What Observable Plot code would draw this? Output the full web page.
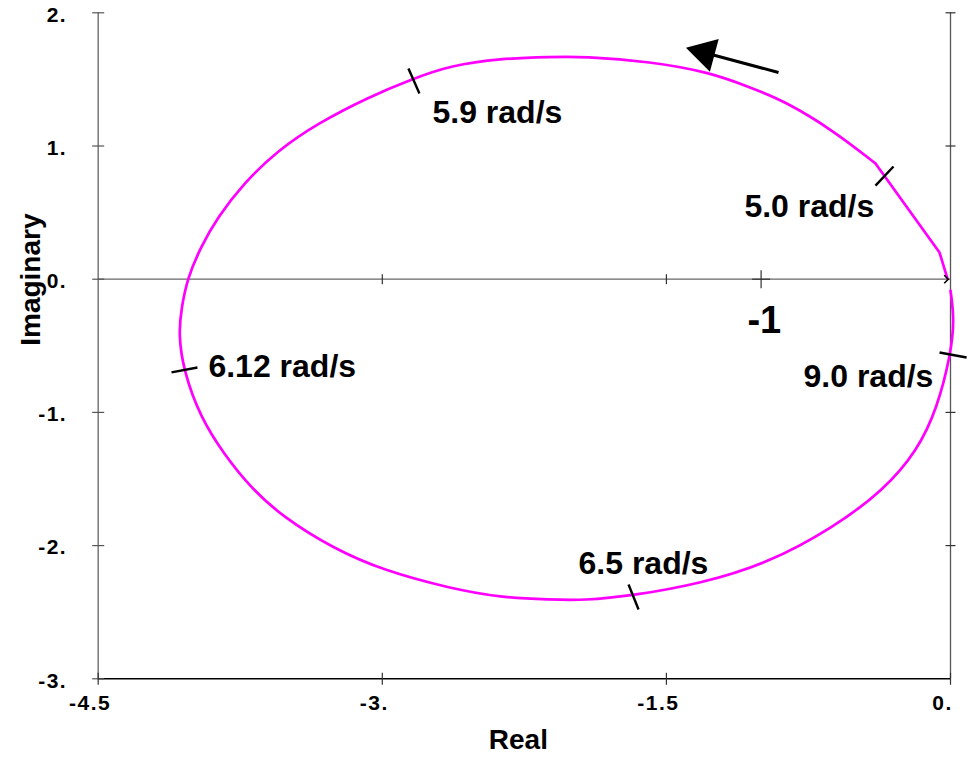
<!DOCTYPE html>
<html>
<head>
<meta charset="utf-8">
<script src="https://cdn.jsdelivr.net/npm/d3@7"></script>
<script src="https://cdn.jsdelivr.net/npm/@observablehq/plot@0.6"></script>
<style>
  body { margin: 0; background: #fff; }
  svg text { font-family: "Liberation Sans", Arial, sans-serif; }
  .ticklbl text { letter-spacing: 1.5px; }
</style>
</head>
<body>
<script>
// Nyquist curve (real, imaginary)
const curveRe = [-0.016, -0.058, -0.396, -0.618, -0.882, -1.056, -1.267, -1.584, -1.938, -2.112,
  -2.376, -2.640, -2.835, -3.078, -3.342, -3.553, -3.733, -3.870, -3.960, -4.029,
  -4.060, -4.076, -4.050, -3.960, -3.838, -3.696, -3.522, -3.258, -2.994, -2.640,
  -2.376, -2.112, -1.938, -1.674, -1.320, -0.966, -0.618, -0.354, -0.174, -0.069,
  0.000, 0.021, 0.000];
const curveIm = [0.005, 0.200, 0.869, 1.116, 1.342, 1.439, 1.552, 1.634, 1.672, 1.668,
  1.657, 1.604, 1.507, 1.364, 1.169, 0.966, 0.718, 0.463, 0.238, 0.005,
  -0.212, -0.408, -0.685, -1.038, -1.309, -1.564, -1.789, -2.022, -2.187, -2.322,
  -2.390, -2.405, -2.412, -2.375, -2.285, -2.134, -1.864, -1.586, -1.286, -0.963,
  -0.573, -0.310, -0.085];

// frequency marks on the curve
const markLabels = ["5.0 rad/s", "5.9 rad/s", "6.12 rad/s", "6.5 rad/s", "9.0 rad/s"];
const markX1 = [-0.396, -2.862, -4.113, -1.700, -0.058];
const markY1 = [0.703, 1.582, -0.700, -2.292, -0.550];
const markX2 = [-0.301, -2.804, -3.976, -1.647, 0.085];
const markY2 = [0.846, 1.394, -0.663, -2.480, -0.588];
const labelX = [-1.088, -2.735, -3.918, -1.964, -0.776];
const labelY = [0.547, 1.253, -0.654, -2.133, -0.736];

// "-1" critical point annotation
const critLabel = ["-1"];
const critX = [-1.072];
const critY = [-0.309];

// direction arrow
const arrowTail = [-0.908, 1.552];
const arrowHead = [-1.297, 1.700];

// axis ticks
const xTickValues = [-4.5, -3, -1.5, 0];
const xTickLabels = ["-4.5", "-3.", "-1.5", "0."];
const yTickValues = [2, 1, 0, -1, -2, -3];
const yTickLabels = ["2.", "1.", "0.", "-1.", "-2.", "-3."];
const zeroLineTicks = [-3, -1.5];
const critTick = [-1];
const rightTicks = [2, 1, -1, -2];

const curve = curveRe.map((x, i) => ({x, y: curveIm[i]}));
const curveStart = curve.slice(0, 3);   // straight segments near the origin
const curveRest = curve.slice(2);       // smooth arc
const marks = markLabels.map((t, i) => ({t, x1: markX1[i], y1: markY1[i], x2: markX2[i], y2: markY2[i], lx: labelX[i], ly: labelY[i]}));

const hTick = {draw(ctx, size) { const r = Math.sqrt(size / Math.PI); ctx.moveTo(-r, 0); ctx.lineTo(r, 0); }};
const vTick = {draw(ctx, size) { const r = Math.sqrt(size / Math.PI); ctx.moveTo(0, -r); ctx.lineTo(0, r); }};
const chevron = {draw(ctx, size) { const r = Math.sqrt(size / Math.PI); ctx.moveTo(-r, -r); ctx.lineTo(0, 0); ctx.lineTo(-r, r); }};

const chart = Plot.plot({
  width: 973,
  height: 762,
  marginLeft: 97.7,
  marginRight: 23,
  marginTop: 12.3,
  marginBottom: 83.7,
  x: {domain: [-4.5, 0], axis: null},
  y: {domain: [-3, 2], axis: null},
  style: {background: "#fff", fontFamily: "Liberation Sans, Arial, sans-serif"},
  marks: [
    // frame lines
    Plot.ruleX([-4.5], {stroke: "#808080", strokeWidth: 1.6}),
    Plot.ruleY([-3], {stroke: "#000", strokeWidth: 1.4}),
    Plot.ruleY([0], {stroke: "#666", strokeWidth: 1.3}),
    Plot.ruleX([0], {stroke: "#555", strokeWidth: 1.3}),
    // ticks
    Plot.dot(yTickValues, {y: d => d, frameAnchor: "left", symbol: hTick, r: 6, stroke: "#555", fill: "none", strokeWidth: 1.2}),
    Plot.dot(xTickValues, {x: d => d, frameAnchor: "bottom", symbol: vTick, r: 6, stroke: "#333", fill: "none", strokeWidth: 1.2}),
    Plot.dot(zeroLineTicks, {x: d => d, y: d => 0, symbol: vTick, r: 5, stroke: "#333", fill: "none", strokeWidth: 1.2}),
    Plot.dot(critTick, {x: d => d, y: d => 0, symbol: vTick, r: 9, stroke: "#333", fill: "none", strokeWidth: 1.2}),
    Plot.dot(critTick, {x: d => d, y: d => 0, symbol: hTick, r: 9, stroke: "#333", fill: "none", strokeWidth: 1.2}),
    Plot.dot(rightTicks, {x: d => 0, y: d => d, symbol: hTick, r: 5, stroke: "#333", fill: "none", strokeWidth: 1.2}),
    // tick labels
    Plot.text(xTickValues, {x: d => d, frameAnchor: "bottom", text: (d, i) => xTickLabels[i], dy: 31, dx: -8, fontSize: 21, fontWeight: "bold", fill: "#000", className: "ticklbl"}),
    Plot.text(yTickValues, {y: d => d, frameAnchor: "left", text: (d, i) => yTickLabels[i], textAnchor: "end", dx: -31, dy: 2, fontSize: 21, fontWeight: "bold", fill: "#000", className: "ticklbl"}),
    // axis titles
    Plot.text(["Real"], {frameAnchor: "bottom", text: d => d, dy: 70, dx: -6, fontSize: 28, fontWeight: "bold", fill: "#000"}),
    Plot.text(["Imaginary"], {frameAnchor: "left", text: d => d, rotate: -90, dx: -67, fontSize: 28, fontWeight: "bold", fill: "#000"}),
    // Nyquist curve
    Plot.line(curveStart, {x: "x", y: "y", stroke: "#ff00ff", strokeWidth: 2.7}),
    Plot.line(curveRest, {x: "x", y: "y", stroke: "#ff00ff", strokeWidth: 2.7, curve: "basis"}),
    // origin marker
    Plot.dot([0], {x: d => -0.012, y: d => 0, symbol: chevron, r: 4, stroke: "#000", fill: "none", strokeWidth: 1.6}),
    // frequency marks
    Plot.link(marks, {x1: "x1", y1: "y1", x2: "x2", y2: "y2", stroke: "#000", strokeWidth: 2.4}),
    Plot.text(marks, {x: "lx", y: "ly", text: "t", textAnchor: "start", fontSize: 32, fontWeight: "bold", fill: "#000"}),
    Plot.text(critLabel, {x: (d, i) => critX[i], y: (d, i) => critY[i], text: d => d, textAnchor: "start", fontSize: 38, fontWeight: "bold", fill: "#000"}),
    // direction arrow
    Plot.link([0], {x1: d => arrowTail[0], y1: d => arrowTail[1], x2: d => arrowHead[0], y2: d => arrowHead[1], stroke: "#000", strokeWidth: 3}),
    Plot.dot([0], {x: d => arrowHead[0], y: d => arrowHead[1], symbol: "triangle", r: 12.6, rotate: -75, fill: "#000", stroke: "none"})
  ]
});
document.body.appendChild(chart);
</script>
</body>
</html>
